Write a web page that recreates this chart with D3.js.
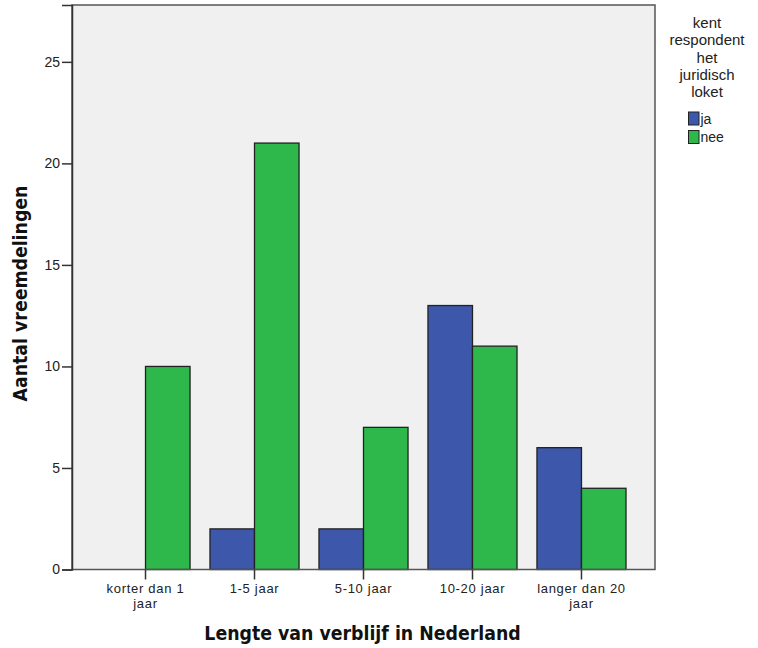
<!DOCTYPE html>
<html><head><meta charset="utf-8">
<script src="https://cdn.jsdelivr.net/npm/d3@7"></script>
<style>body{margin:0;background:#fff}svg{display:block}</style>
</head><body>
<script>
const categories = [["korter dan 1","jaar"],["1-5 jaar"],["5-10 jaar"],["10-20 jaar"],["langer dan 20","jaar"]];
const seriesNames = ["ja","nee"];
const jaValues = [0, 2, 2, 13, 6];
const neeValues = [10, 21, 7, 11, 4];
const yTicks = [0, 5, 10, 15, 20, 25];
const colors = ["#3d57ab", "#2eb84b"];
const legendTitle = ["kent","respondent","het","juridisch","loket"];

const W = 758, H = 648;
const pLeft = 72, pRight = 655, pTop = 5, pBottom = 569.5;
const svg = d3.select("body").append("svg").attr("width", W).attr("height", H);

const catKeys = categories.map((c,i)=>i);
const x = d3.scaleBand().domain(catKeys).range([pLeft, pRight]).paddingInner(0.183).paddingOuter(0.266);
const xs = d3.scaleBand().domain(seriesNames).range([0, x.bandwidth()]);
const y = d3.scaleLinear().domain([0, 27.8]).range([pBottom, pTop]);

svg.append("rect").attr("x", pLeft).attr("y", pTop).attr("width", pRight-pLeft).attr("height", pBottom-pTop)
  .attr("fill", "#f0f0f0");

const data = [jaValues, neeValues];
seriesNames.forEach((s, si) => {
  svg.append("g").selectAll("rect").data(data[si]).join("rect")
    .attr("x", (d,i) => x(i) + xs(s))
    .attr("y", d => y(d))
    .attr("width", xs.bandwidth())
    .attr("height", d => y(0) - y(d))
    .attr("fill", colors[si])
    .attr("stroke", d => d > 0 ? "#222" : "none")
    .attr("stroke-width", 1.3);
});

// frame
svg.append("rect").attr("x", pLeft).attr("y", pTop).attr("width", pRight-pLeft).attr("height", pBottom-pTop)
  .attr("fill", "none").attr("stroke", "#555").attr("stroke-width", 1.5);

const tickFont = "Liberation Sans, Arial, sans-serif";
// y axis
const yAxis = svg.append("g").attr("transform", `translate(${pLeft},0)`)
  .call(d3.axisLeft(y).tickValues(yTicks).tickSize(10).tickPadding(2));
yAxis.select(".domain").attr("stroke", "#333").attr("stroke-width", 1.5);
yAxis.selectAll(".tick line").attr("stroke", "#333").attr("stroke-width", 1.5);
yAxis.selectAll(".tick text").attr("font-family", tickFont).attr("font-size", 14).attr("fill", "#222");

// x axis
const xAxis = svg.append("g").attr("transform", `translate(0,${pBottom})`)
  .call(d3.axisBottom(x).tickSize(10).tickFormat(""));
xAxis.select(".domain").remove();
xAxis.selectAll(".tick line").attr("stroke", "#333").attr("stroke-width", 1.5);
xAxis.selectAll(".tick").each(function(d){
  const g = d3.select(this);
  categories[d].forEach((line, li) => {
    g.append("text").attr("fill","#222")
      .attr("font-family",tickFont).attr("font-size",13).attr("letter-spacing", 0.7)
      .attr("text-anchor","middle").attr("x", 0).attr("y", 23.5 + li*15).text(line);
  });
});

// axis titles
const titleFont = "DejaVu Sans Condensed, DejaVu Sans, sans-serif";
svg.append("text").attr("x", 362.5).attr("y", 640).attr("text-anchor","middle")
  .attr("font-family",titleFont).attr("font-weight","bold").attr("font-size",19.3).attr("fill","#111")
  .text("Lengte van verblijf in Nederland");
svg.append("text").attr("transform", `translate(27,293.5) rotate(-90)`).attr("text-anchor","middle")
  .attr("font-family",titleFont).attr("font-weight","bold").attr("font-size",19.3).attr("fill","#111")
  .text("Aantal vreemdelingen");

// legend
const lg = svg.append("g");
legendTitle.forEach((t, i) => {
  lg.append("text").attr("x", 707).attr("y", 28 + i*17.3).attr("text-anchor","middle")
    .attr("font-family",tickFont).attr("font-size",15).attr("fill","#222").text(t);
});
seriesNames.forEach((s, i) => {
  lg.append("rect").attr("x", 688.5).attr("y", 112 + i*18.5).attr("width", 10.5).attr("height", 13)
    .attr("fill", colors[i]).attr("stroke", "#222").attr("stroke-width", 1);
  lg.append("text").attr("x", 700.5).attr("y", 123.5 + i*18.5)
    .attr("font-family",tickFont).attr("font-size",14).attr("fill","#222").text(s);
});
</script>
</body></html>
